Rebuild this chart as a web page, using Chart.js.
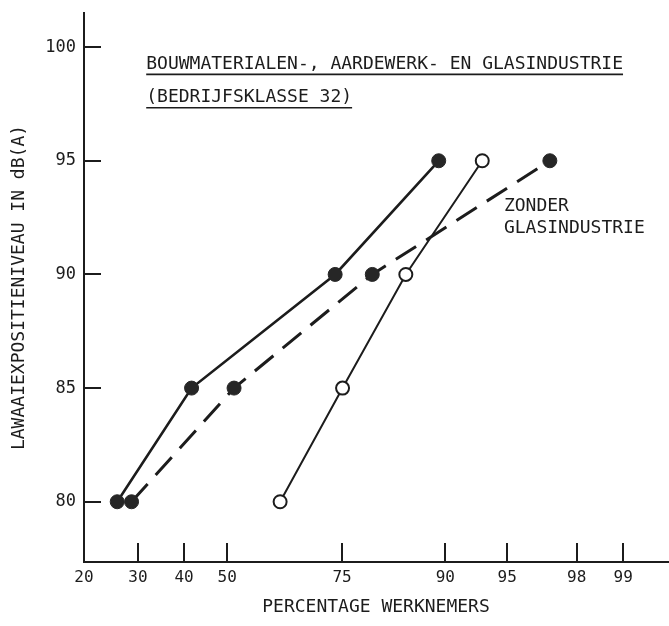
<!DOCTYPE html>
<html><head><meta charset="utf-8">
<script src="https://cdn.jsdelivr.net/npm/chart.js@4/dist/chart.umd.min.js"></script>
<style>html,body{margin:0;padding:0;background:#fff}canvas{display:block}</style>
</head><body>
<canvas id="c" width="669" height="626"></canvas>
<script>
// ---- data ----
const dbLevels = [80, 85, 90, 95];
const pctTotaal = [25.9, 41.7, 73.7, 89.3];       // solid line, filled dots
const pctZonderGlas = [28.7, 51.6, 80.3, 97.1];   // dashed line, filled dots
const pctGlas = [62.2, 75.1, 85.3, 93.3];         // thin line, open dots
const xTickValues = [20, 30, 40, 50, 75, 90, 95, 98, 99];
const xTickLabels = ['20', '30', '40', '50', '75', '90', '95', '98', '99'];
const yTickValues = [80, 85, 90, 95, 100];
const titleLines = ['BOUWMATERIALEN-, AARDEWERK- EN GLASINDUSTRIE', '(BEDRIJFSKLASSE 32)'];
const noteLines = ['ZONDER', 'GLASINDUSTRIE'];
const xTitle = 'PERCENTAGE WERKNEMERS';
const yTitle = 'LAWAAIEXPOSITIENIVEAU IN dB(A)';

// ---- normal-probability axis transform (inverse normal CDF, Acklam) ----
function probit(p) {
  const a = [-3.969683028665376e+01, 2.209460984245205e+02, -2.759285104469687e+02, 1.383577518672690e+02, -3.066479806614716e+01, 2.506628277459239e+00];
  const b = [-5.447609879822406e+01, 1.615858368580409e+02, -1.556989798598866e+02, 6.680131188771972e+01, -1.328068155288572e+01];
  const c = [-7.784894002430293e-03, -3.223964580411365e-01, -2.400758277161838e+00, -2.549732539343734e+00, 4.374664141464968e+00, 2.938163982698783e+00];
  const d = [7.784695709041462e-03, 3.224671290700398e-01, 2.445134137142996e+00, 3.754408661907416e+00];
  const plow = 0.02425, phigh = 1 - plow;
  let q, r;
  if (p < plow) {
    q = Math.sqrt(-2 * Math.log(p));
    return (((((c[0]*q+c[1])*q+c[2])*q+c[3])*q+c[4])*q+c[5]) / ((((d[0]*q+d[1])*q+d[2])*q+d[3])*q+1);
  }
  if (p <= phigh) {
    q = p - 0.5; r = q*q;
    return (((((a[0]*r+a[1])*r+a[2])*r+a[3])*r+a[4])*r+a[5])*q / (((((b[0]*r+b[1])*r+b[2])*r+b[3])*r+b[4])*r+1);
  }
  q = Math.sqrt(-2 * Math.log(1 - p));
  return -(((((c[0]*q+c[1])*q+c[2])*q+c[3])*q+c[4])*q+c[5]) / ((((d[0]*q+d[1])*q+d[2])*q+d[3])*q+1);
}
const toZ = pct => probit(pct / 100);
const pts = (pcts) => pcts.map((p, i) => ({ x: toZ(p), y: dbLevels[i] }));

const FONT = "'DejaVu Sans Mono', monospace";
const INK = '#1c1c1c';

// annotation anchors in data units (percent, dB)
const titleAnchor = { pct: 31.7, db: [99.24, 97.77] };
const noteAnchor = { pct: 94.8, db: [92.98, 92.02] };

const decorPlugin = {
  id: 'decor',
  afterDraw(chart) {
    const ctx = chart.ctx, xs = chart.scales.x, ys = chart.scales.y;
    ctx.save();
    ctx.strokeStyle = INK; ctx.lineWidth = 2; ctx.lineCap = 'butt';
    // inward tick marks
    xTickValues.slice(1).forEach(v => {
      const px = Math.round(xs.getPixelForValue(toZ(v)));
      ctx.beginPath(); ctx.moveTo(px, ys.bottom); ctx.lineTo(px, ys.bottom - 19); ctx.stroke();
    });
    yTickValues.forEach(v => {
      const py = Math.round(ys.getPixelForValue(v));
      ctx.beginPath(); ctx.moveTo(xs.left, py); ctx.lineTo(xs.left + 17, py); ctx.stroke();
    });
    // title lines with underline
    ctx.fillStyle = INK; ctx.font = '18px ' + FONT; ctx.textBaseline = 'middle'; ctx.textAlign = 'left';
    const tx = xs.getPixelForValue(toZ(titleAnchor.pct));
    titleLines.forEach((t, i) => {
      const ty = ys.getPixelForValue(titleAnchor.db[i]);
      ctx.fillText(t, tx, ty);
      const w = ctx.measureText(t).width;
      ctx.lineWidth = 1.6;
      ctx.beginPath(); ctx.moveTo(tx, ty + 10); ctx.lineTo(tx + w, ty + 10); ctx.stroke();
    });
    const nx = xs.getPixelForValue(toZ(noteAnchor.pct));
    noteLines.forEach((t, i) => {
      ctx.fillText(t, nx, ys.getPixelForValue(noteAnchor.db[i]));
    });
    ctx.restore();
  }
};

new Chart(document.getElementById('c'), {
  type: 'line',
  data: {
    datasets: [
      {
        label: 'Totaal',
        data: pts(pctTotaal),
        borderColor: INK, borderWidth: 2.6,
        pointBackgroundColor: '#262626', pointBorderColor: '#262626', pointBorderWidth: 1,
        pointRadius: 7, tension: 0
      },
      {
        label: 'Zonder glasindustrie',
        data: pts(pctZonderGlas),
        borderColor: INK, borderWidth: 3, borderDash: [24, 12],
        pointBackgroundColor: '#262626', pointBorderColor: '#262626', pointBorderWidth: 1,
        pointRadius: 7, tension: 0
      },
      {
        label: 'Glasindustrie',
        data: pts(pctGlas),
        borderColor: INK, borderWidth: 2,
        pointBackgroundColor: '#ffffff', pointBorderColor: INK, pointBorderWidth: 2,
        pointRadius: 6.5, tension: 0
      }
    ]
  },
  options: {
    responsive: false,
    animation: false,
    devicePixelRatio: 1,
    layout: { autoPadding: false, padding: { top: 13, right: 1, left: 0, bottom: 0 } },
    plugins: { legend: { display: false }, tooltip: { enabled: false } },
    scales: {
      x: {
        type: 'linear',
        min: toZ(20), max: toZ(99.52),
        afterBuildTicks: s => { s.ticks = xTickValues.map(v => ({ value: toZ(v) })); },
        afterFit: s => { s.height = 64; s.paddingLeft = 0; s.paddingRight = 0; },
        ticks: {
          autoSkip: false, maxRotation: 0, padding: 6, color: INK,
          font: { family: FONT, size: 16 },
          callback: (v, i) => xTickLabels[i]
        },
        grid: { display: false, drawTicks: false },
        border: { display: true, color: INK, width: 2 },
        title: { display: true, text: xTitle, color: INK, font: { family: FONT, size: 18 }, padding: { top: 0, bottom: 8 } }
      },
      y: {
        type: 'linear',
        min: 77.35, max: 101.5,
        afterBuildTicks: s => { s.ticks = yTickValues.map(v => ({ value: v })); },
        afterFit: s => { s.width = 84; s.paddingTop = 0; s.paddingBottom = 0; },
        ticks: { padding: 8, color: INK, font: { family: FONT, size: 17 } },
        grid: { display: false, drawTicks: false },
        border: { display: true, color: INK, width: 2 },
        title: { display: true, text: yTitle, color: INK, font: { family: FONT, size: 18 }, padding: { top: 9, bottom: 0 } }
      }
    }
  },
  plugins: [decorPlugin]
});
</script>
</body></html>
